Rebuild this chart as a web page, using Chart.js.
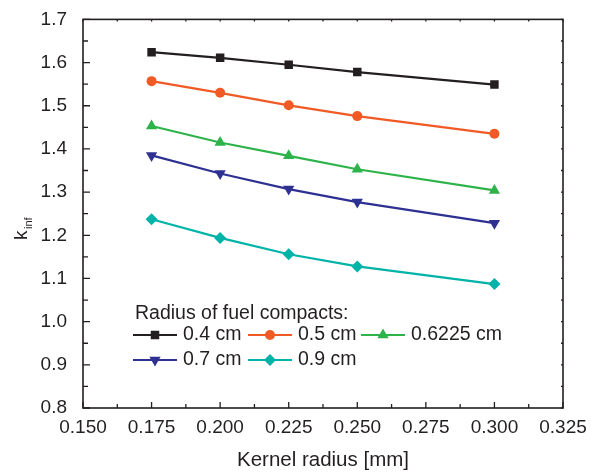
<!DOCTYPE html>
<html>
<head>
<meta charset="utf-8">
<script src="https://cdn.jsdelivr.net/npm/chart.js@4/dist/chart.umd.min.js"></script>
<style>
  html, body { margin: 0; padding: 0; background: #fff; }
  #wrap { width: 601px; height: 475px; }
</style>
</head>
<body>
<div id="wrap"><canvas id="chart"></canvas></div>
<script>
// kernel radius [mm]
const kernelRadius = [0.175, 0.200, 0.225, 0.250, 0.300];
// k_inf for each fuel compact radius
const kinf04 = [1.624, 1.611, 1.595, 1.578, 1.549];
const kinf05 = [1.557, 1.530, 1.501, 1.476, 1.435];
const kinf06225 = [1.453, 1.415, 1.384, 1.353, 1.304];
const kinf07 = [1.385, 1.343, 1.307, 1.277, 1.228];
const kinf09 = [1.237, 1.194, 1.156, 1.128, 1.087];
const seriesLabels = ["0.4 cm", "0.5 cm", "0.6225 cm", "0.7 cm", "0.9 cm"];

const ink = "#231f20";
const font = "'Liberation Sans', Arial, sans-serif";

function pts(ys) {
    return kernelRadius.map((x, i) => ({ x: x, y: ys[i] }));
}

function makeSet(label, ys, color, style, radius, rotation) {
    return {
        label: label,
        data: pts(ys),
        borderColor: color,
        backgroundColor: color,
        borderWidth: 2.2,
        pointStyle: style,
        pointRadius: radius,
        pointRotation: rotation || 0,
        pointBorderWidth: 0,
        pointBorderColor: color,
        tension: 0
    };
}

const datasets = [
    makeSet(seriesLabels[0], kinf04, ink, "rect", 6),
    makeSet(seriesLabels[1], kinf05, "#f15a24", "circle", 5),
    makeSet(seriesLabels[2], kinf06225, "#2db34a", "triangle", 6.5),
    makeSet(seriesLabels[3], kinf07, "#2e3192", "triangle", 6.5, 180),
    makeSet(seriesLabels[4], kinf09, "#00b3a8", "rectRot", 6)
];

// box, inward ticks, y title and in-plot legend
const decor = {
    id: "decor",
    afterDatasetsDraw(chart) {
        const ctx = chart.ctx;
        const a = chart.chartArea;
        const xs = chart.scales.x, ys = chart.scales.y;
        ctx.save();
        ctx.strokeStyle = ink;
        ctx.lineWidth = 1.6;
        ctx.strokeRect(a.left, a.top, a.right - a.left, a.bottom - a.top);

        ctx.lineWidth = 1.3;
        ctx.beginPath();
        xs.ticks.forEach((t, i) => {
            const px = xs.getPixelForValue(t.value);
            ctx.moveTo(px, a.bottom); ctx.lineTo(px, a.bottom - 6);
            ctx.moveTo(px, a.top); ctx.lineTo(px, a.top + 2);
            if (i < xs.ticks.length - 1) {
                const m = xs.getPixelForValue((t.value + xs.ticks[i + 1].value) / 2);
                ctx.moveTo(m, a.bottom); ctx.lineTo(m, a.bottom - 4);
                ctx.moveTo(m, a.top); ctx.lineTo(m, a.top + 2);
            }
        });
        ys.ticks.forEach((t, i) => {
            const py = ys.getPixelForValue(t.value);
            ctx.moveTo(a.left, py); ctx.lineTo(a.left + 7, py);
            ctx.moveTo(a.right, py); ctx.lineTo(a.right - 2, py);
            if (i < ys.ticks.length - 1) {
                const m = ys.getPixelForValue((t.value + ys.ticks[i + 1].value) / 2);
                ctx.moveTo(a.left, m); ctx.lineTo(a.left + 5, m);
                ctx.moveTo(a.right, m); ctx.lineTo(a.right - 2, m);
            }
        });
        ctx.stroke();

        // y title k_inf
        ctx.fillStyle = ink;
        ctx.translate(27, 229);
        ctx.rotate(-Math.PI / 2);
        ctx.textBaseline = "alphabetic";
        ctx.textAlign = "left";
        ctx.font = "19px " + font;
        ctx.fillText("k", -11, 0);
        ctx.font = "11px " + font;
        ctx.fillText("inf", 0, 5);
        ctx.restore();

        // legend
        ctx.save();
        ctx.fillStyle = ink;
        ctx.font = "19.5px " + font;
        ctx.textBaseline = "middle";
        ctx.textAlign = "left";
        ctx.fillText("Radius of fuel compacts:", 135, 314);
        const slots = [[133, 335], [248, 335], [361, 335], [133, 360], [248, 360]];
        datasets.forEach((ds, i) => {
            const [x, y] = slots[i];
            ctx.strokeStyle = ds.borderColor;
            ctx.lineWidth = 2.2;
            ctx.beginPath();
            ctx.moveTo(x, y); ctx.lineTo(x + 44, y);
            ctx.stroke();
            ctx.fillStyle = ds.backgroundColor;
            Chart.helpers.drawPoint(ctx, {
                pointStyle: ds.pointStyle,
                radius: ds.pointRadius,
                rotation: ds.pointRotation,
                borderWidth: 0
            }, x + 22, y);
            ctx.fillStyle = ink;
            ctx.fillText(ds.label, x + 50, y);
        });
        ctx.restore();
    }
};

new Chart(document.getElementById("chart"), {
    type: "line",
    data: { datasets: datasets },
    options: {
        responsive: true,
        maintainAspectRatio: false,
        animation: false,
        layout: { padding: { top: 19, right: 38, left: 0, bottom: 0 } },
        plugins: {
            legend: { display: false },
            tooltip: { enabled: false }
        },
        scales: {
            x: {
                type: "linear",
                min: 0.15,
                max: 0.325,
                grid: { display: false },
                border: { display: false },
                ticks: {
                    stepSize: 0.025,
                    autoSkip: false,
                    maxRotation: 0,
                    padding: 0,
                    color: ink,
                    font: { family: font, size: 19 },
                    callback: v => v.toFixed(3)
                },
                title: {
                    display: true,
                    text: "Kernel radius [mm]",
                    color: ink,
                    font: { family: font, size: 20.5 },
                    padding: { top: 0, bottom: 2 }
                },
                afterFit(scale) { scale.height = 67; }
            },
            y: {
                min: 0.8,
                max: 1.7,
                grid: { display: false },
                border: { display: false },
                ticks: {
                    stepSize: 0.1,
                    padding: 8,
                    color: ink,
                    font: { family: font, size: 19 },
                    callback: v => v.toFixed(1)
                },
                afterFit(scale) { scale.width = 83; }
            }
        }
    },
    plugins: [decor]
});
</script>
</body>
</html>
